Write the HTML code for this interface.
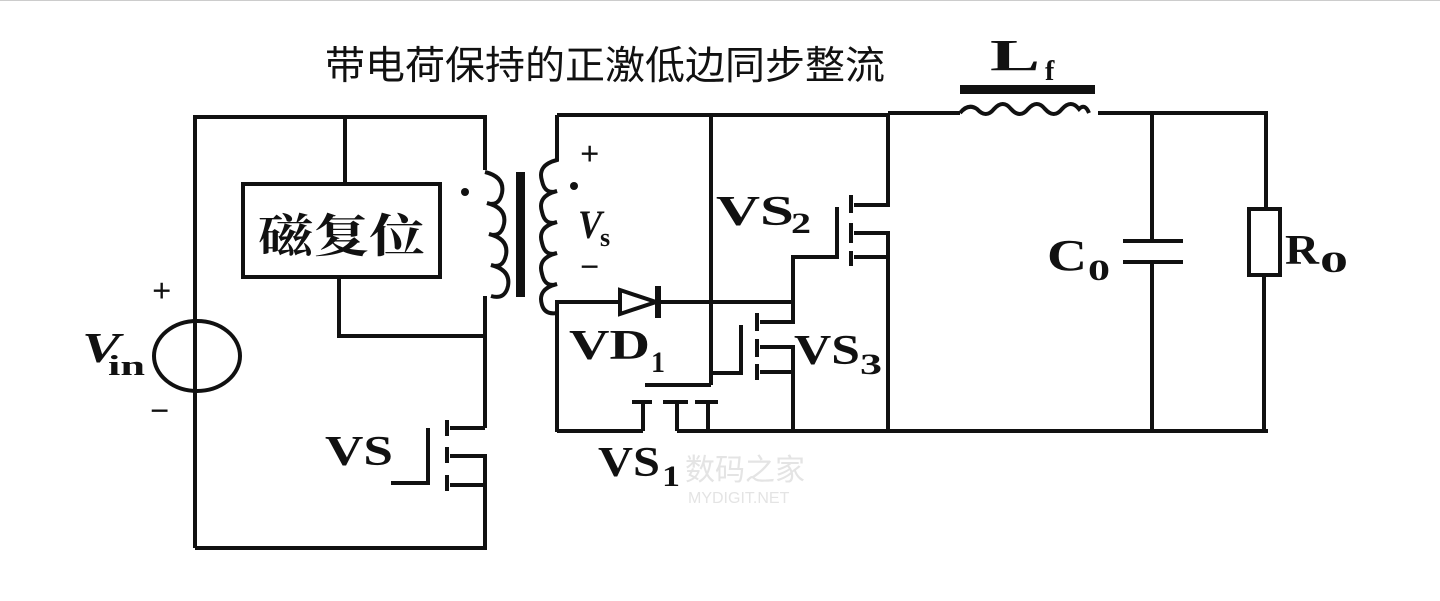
<!DOCTYPE html>
<html><head><meta charset="utf-8"><style>
html,body{margin:0;padding:0;background:#fff;}
svg{display:block}
.s{font-family:"Liberation Serif","Noto Serif CJK SC",serif;font-weight:bold;fill:#111}
</style></head><body>
<svg width="1440" height="601" viewBox="0 0 1440 601" xmlns="http://www.w3.org/2000/svg">
<rect width="1440" height="601" fill="#fff"/>
<line x1="0" y1="0.5" x2="1440" y2="0.5" stroke="#ccc" stroke-width="1"/>
<text x="325" y="79" textLength="560" lengthAdjust="spacingAndGlyphs" font-family="'Liberation Sans','Noto Sans CJK SC',sans-serif" font-size="39" fill="#111">带电荷保持的正激低边同步整流</text>
<g fill="none" stroke="#111" stroke-width="4">
<polyline points="195,318 195,117 485,117 485,170"/>
<line x1="195" y1="392" x2="195" y2="548"/>
<polyline points="195,548 485,548 485,485"/>
<line x1="345" y1="117" x2="345" y2="183"/>
<rect x="243" y="184" width="197" height="93"/>
<polyline points="339,277 339,336 485,336"/>
<ellipse cx="197" cy="356" rx="43" ry="35"/>
<line x1="195" y1="318" x2="195" y2="392"/>
<path d="M485,172 q20,5 17,21 q-3,14 -15,10 q20,5 17,21 q-3,14 -15,10 q20,5 17,21 q-3,14 -15,10 q20,5 17,21 q-3,14 -17,10"/>
<line x1="485" y1="296" x2="485" y2="428"/>
<polyline points="485,428 450,428"/>
<polyline points="485,485 485,456 450,456"/>
<line x1="485" y1="485" x2="450" y2="485"/>
<line x1="447" y1="420" x2="447" y2="436"/>
<line x1="447" y1="447" x2="447" y2="463"/>
<line x1="447" y1="475" x2="447" y2="491"/>
<polyline points="428,428 428,483 391,483"/>
<path d="M557,115 L557,160 q-20,5 -15,21 q3,14 15,10 q-20,5 -15,21 q3,14 15,10 q-20,5 -15,21 q3,14 15,10 q-20,5 -15,21 q3,14 15,10 q-20,5 -15,21 q3,10 15,8"/>
<polyline points="557,115 888,115"/>
<line x1="557" y1="300" x2="557" y2="432"/>
<line x1="711" y1="115" x2="711" y2="385"/>
<line x1="557" y1="302" x2="793" y2="302"/>
<line x1="557" y1="431" x2="643" y2="431"/>
<line x1="677" y1="431" x2="1268" y2="431"/>
<polyline points="888,115 888,205 854,205"/>
<polyline points="854,233 888,233 888,431"/>
<line x1="854" y1="257" x2="888" y2="257"/>
<line x1="851" y1="195" x2="851" y2="213"/>
<line x1="851" y1="223" x2="851" y2="243"/>
<line x1="851" y1="251" x2="851" y2="266"/>
<polyline points="837,207 837,257 793,257 793,322 760,322"/>
<line x1="757" y1="313" x2="757" y2="331"/>
<line x1="757" y1="339" x2="757" y2="357"/>
<line x1="757" y1="364" x2="757" y2="380"/>
<polyline points="760,347 793,347 793,431"/>
<line x1="760" y1="372" x2="793" y2="372"/>
<polyline points="741,325 741,373 711,373"/>
<line x1="645" y1="385" x2="711" y2="385"/>
<line x1="632" y1="402" x2="652" y2="402"/>
<line x1="663" y1="402" x2="688" y2="402"/>
<line x1="695" y1="402" x2="718" y2="402"/>
<line x1="643" y1="402" x2="643" y2="431"/>
<line x1="677" y1="402" x2="677" y2="431"/>
<line x1="708" y1="402" x2="708" y2="431"/>
<line x1="888" y1="113" x2="960" y2="113"/>
<path d="M960,113 q8,-10 17,-4 q9,10 17,0 q9,-10 17,0 q9,10 17,0 q9,-10 17,0 q9,10 17,0 q9,-10 17,0 q6,-6 10,4"/>
<line x1="1098" y1="113" x2="1268" y2="113"/>
<line x1="1152" y1="113" x2="1152" y2="241"/>
<line x1="1152" y1="262" x2="1152" y2="431"/>
<line x1="1123" y1="241" x2="1183" y2="241"/>
<line x1="1123" y1="262" x2="1183" y2="262"/>
<line x1="1266" y1="113" x2="1266" y2="208"/>
<line x1="1264" y1="276" x2="1264" y2="431"/>
<rect x="1249" y="209" width="31" height="66"/>
</g>
<rect x="516" y="172" width="9" height="125" fill="#111"/>
<rect x="960" y="85" width="135" height="9" fill="#111"/>
<polygon points="620,290 620,314 656,302" fill="#fff" stroke="#111" stroke-width="4"/>
<rect x="655" y="286" width="6" height="32" fill="#111"/>
<circle cx="465" cy="192" r="4" fill="#111"/>
<circle cx="574" cy="186" r="4" fill="#111"/>
<text x="258" y="252" textLength="167" lengthAdjust="spacingAndGlyphs" class="s" font-size="46">磁复位</text>
<text x="152" y="302" class="s" font-size="34">+</text>
<text x="150" y="422" class="s" font-size="34">−</text>
<text x="82" y="362" textLength="38" lengthAdjust="spacingAndGlyphs" class="s" font-style="italic" font-size="42">V</text>
<text x="108" y="375" textLength="37" lengthAdjust="spacingAndGlyphs" class="s" font-size="28">in</text>
<text x="580" y="165" class="s" font-size="34">+</text>
<text x="580" y="278" class="s" font-size="34">−</text>
<text x="578" y="238" textLength="24" lengthAdjust="spacingAndGlyphs" class="s" font-style="italic" font-size="40">V</text>
<text x="600" y="246" class="s" font-size="26">s</text>
<text x="716" y="225" textLength="78" lengthAdjust="spacingAndGlyphs" class="s" font-size="42">VS</text>
<text x="791" y="233" textLength="20" lengthAdjust="spacingAndGlyphs" class="s" font-size="30">2</text>
<text x="569" y="359" textLength="81" lengthAdjust="spacingAndGlyphs" class="s" font-size="42">VD</text>
<text x="651" y="372" textLength="14" lengthAdjust="spacingAndGlyphs" class="s" font-size="30">1</text>
<text x="794" y="364" textLength="66" lengthAdjust="spacingAndGlyphs" class="s" font-size="42">VS</text>
<text x="860" y="374" textLength="22" lengthAdjust="spacingAndGlyphs" class="s" font-size="30">3</text>
<text x="598" y="476" textLength="62" lengthAdjust="spacingAndGlyphs" class="s" font-size="42">VS</text>
<text x="662" y="486" textLength="18" lengthAdjust="spacingAndGlyphs" class="s" font-size="30">1</text>
<text x="325" y="465" textLength="68" lengthAdjust="spacingAndGlyphs" class="s" font-size="42">VS</text>
<text x="990" y="70" textLength="50" lengthAdjust="spacingAndGlyphs" class="s" font-size="44">L</text>
<text x="1045" y="80" class="s" font-size="28">f</text>
<text x="1047" y="270" textLength="40" lengthAdjust="spacingAndGlyphs" class="s" font-size="44">C</text>
<text x="1088" y="280" textLength="22" lengthAdjust="spacingAndGlyphs" class="s" font-size="30">0</text>
<text x="1285" y="264" textLength="34" lengthAdjust="spacingAndGlyphs" class="s" font-size="42">R</text>
<text x="1320" y="272" textLength="28" lengthAdjust="spacingAndGlyphs" class="s" font-size="30">0</text>
<text x="685" y="480" font-family="'Liberation Sans','Noto Sans CJK SC',sans-serif" font-size="30" fill="#e4e4e4">数码之家</text>
<text x="688" y="503" font-family="'Liberation Sans',sans-serif" font-size="16" fill="#e4e4e4">MYDIGIT.NET</text>
</svg>
</body></html>
